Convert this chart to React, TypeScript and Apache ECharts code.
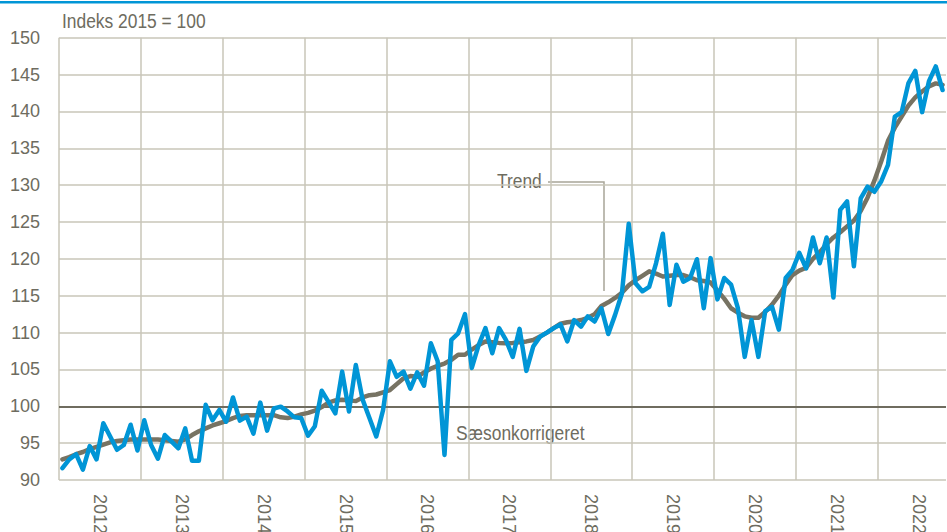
import React, { useEffect, useRef } from "react";
import * as echarts from "echarts";

const years = ["2012", "2013", "2014", "2015", "2016", "2017", "2018", "2019", "2020", "2021", "2022"];

// Monthly values, Jan 2012 – Oct 2022 (Indeks 2015 = 100)
const saesonkorrigeret = [
  91.6, 92.8, 93.5, 91.4, 94.6, 92.8, 97.7, 95.9, 94.1, 94.75, 97.5, 94.0,
  98.1, 94.75, 92.9, 96.1, 95.2, 94.3, 97.0, 92.6, 92.6, 100.2, 98.1, 99.5,
  97.9, 101.2, 98.05, 98.6, 96.3, 100.5, 96.7, 99.7, 99.95, 99.3, 98.5, 98.4,
  96.0, 97.3, 102.1, 100.6, 99.05, 104.7, 99.3, 105.6, 100.9, 98.4, 95.9, 99.5,
  106.1, 104.0, 104.7, 102.4, 104.6, 102.8, 108.55, 106.1, 93.4, 109.0, 109.9, 112.5,
  105.2, 108.3, 110.6, 107.2, 110.6, 109.0, 106.7, 110.5, 104.8, 108.1, 109.45, 110.0,
  110.6, 111.1, 108.8, 111.7, 110.8, 112.2, 111.5, 113.3, 109.8, 112.4, 115.3, 124.75,
  116.7, 115.6, 116.2, 119.4, 123.4, 113.75, 119.2, 116.9, 117.4, 119.95, 113.3, 120.1,
  114.5, 117.4, 116.5, 113.3, 106.7, 111.7, 106.7, 112.9, 113.5, 110.4, 117.4, 118.5,
  120.8, 118.7, 122.9, 119.4, 122.9, 114.75, 126.65, 127.8, 119.0, 128.2, 129.8, 129.1,
  130.5, 132.75, 139.3, 139.9, 143.85, 145.5, 139.9, 144.1, 146.1, 142.9,
];

const trend = [
  92.8, 93.1, 93.5, 93.8, 94.2, 94.5, 94.8, 95.1, 95.3, 95.4, 95.5, 95.5,
  95.5, 95.5, 95.5, 95.4, 95.3, 95.2, 95.5, 96.1, 96.6, 97.0, 97.4, 97.7,
  98.0, 98.4, 98.7, 98.8, 98.8, 98.8, 98.8, 98.8, 98.5, 98.4, 98.6, 98.9,
  99.1, 99.4, 99.9, 100.5, 100.8, 100.9, 100.8, 100.7, 101.2, 101.5, 101.6, 101.9,
  102.2, 103.0, 103.8, 104.1, 104.0, 104.6, 105.1, 105.5, 105.8, 106.3, 107.0, 107.0,
  107.7, 108.3, 108.8, 108.7, 108.6, 108.55, 108.6, 108.7, 108.8, 109.0, 109.45, 110.0,
  110.6, 111.2, 111.4, 111.5, 111.7, 112.0, 112.5, 113.6, 114.1, 114.7, 115.4, 116.4,
  117.1, 117.7, 118.3, 118.0, 117.6, 117.7, 117.8, 117.8, 117.5, 117.1, 117.0, 116.8,
  115.7, 114.6, 113.3, 112.7, 112.2, 112.0, 112.0, 112.8, 113.8, 115.0, 116.5, 117.8,
  118.4, 118.8, 120.0, 120.9, 122.0, 122.9, 123.6, 124.4, 125.2, 126.5, 128.3, 130.6,
  133.2, 136.0, 137.8, 139.3, 140.8, 141.9, 142.7, 143.4, 143.8, 143.6,
];

const yTicks = { min: 90, max: 150, step: 5 };
const baseValue = 100;

const FONT = "'Liberation Sans', Arial, sans-serif";
const TEXT = "#6e6c60";
const GRID = "#c9c6b9";
const NARROW = 0.87;

export default function App() {
  const ref = useRef<HTMLDivElement>(null);

  useEffect(() => {
    if (!ref.current) return;
    const chart = echarts.init(ref.current, undefined, { renderer: "svg" });
    const months = saesonkorrigeret.length;
    const yearStarts = years.map((_, i) => i * 12);
    const yearMids = years.map((_, i) => i * 12 + 6);
    const sa = saesonkorrigeret.map((v, i) => [i + 0.5, v]);
    const tr = trend.map((v, i) => [i + 0.5, v]);

    chart.setOption({
      animation: false,
      grid: { left: 59, right: 1, top: 37.7, bottom: 52, containLabel: false, outerBoundsMode: "none" },
      xAxis: {
        type: "value",
        min: 0,
        max: months,
        interval: 12,
        axisLine: { show: false },
        axisTick: { show: false, customValues: yearStarts },
        splitLine: { show: true, lineStyle: { color: GRID, width: 1.5 } },
        axisLabel: {
          customValues: yearMids,
          rotate: -90,
          margin: 14,
          color: TEXT,
          fontSize: 18,
          fontFamily: FONT,
          formatter: (v: number) => years[Math.floor(v / 12)] ?? "",
        },
      },
      yAxis: {
        type: "value",
        min: yTicks.min,
        max: yTicks.max,
        interval: yTicks.step,
        axisLine: { show: false },
        axisTick: { show: false },
        splitLine: { show: true, lineStyle: { color: GRID, width: 1.5 } },
        axisLabel: { color: TEXT, fontSize: 18, fontFamily: FONT, margin: 19 },
      },
      series: [
        {
          name: "Trend",
          type: "line",
          data: tr,
          symbol: "none",
          lineStyle: { color: "#777363", width: 4.5, join: "round", cap: "round" },
          z: 2,
          markLine: {
            silent: true,
            symbol: "none",
            label: { show: false },
            lineStyle: { color: "#6f6c5f", width: 2, type: "solid" },
            data: [{ yAxis: baseValue }],
            z: 1,
          },
        },
        {
          name: "Sæsonkorrigeret",
          type: "line",
          data: sa,
          symbol: "none",
          lineStyle: { color: "#0095d6", width: 4.5, join: "round", cap: "round" },
          z: 3,
        },
      ],
      graphic: [
        { type: "rect", x: 0, y: 1, shape: { width: 947, height: 2.5 }, style: { fill: "#0095d6" } },
        {
          type: "text",
          x: 62,
          y: 11,
          scaleX: NARROW,
          style: { text: "Indeks 2015 = 100", fill: TEXT, font: `20px ${FONT}` },
        },
        {
          type: "text",
          x: 497,
          y: 171,
          scaleX: NARROW,
          style: { text: "Trend", fill: TEXT, font: `20px ${FONT}` },
        },
        {
          type: "polyline",
          shape: { points: [[548, 182], [604, 182], [604, 291]] },
          style: { stroke: "#a8a598", lineWidth: 1.5, fill: "none" },
        },
        {
          type: "text",
          x: 456,
          y: 423,
          scaleX: NARROW,
          style: { text: "Sæsonkorrigeret", fill: TEXT, font: `20px ${FONT}` },
        },
      ],
    });
    return () => chart.dispose();
  }, []);

  return (
    <div
      ref={ref}
      style={{ position: "fixed", left: 0, top: 0, width: 947, height: 532, background: "#fff" }}
    />
  );
}
